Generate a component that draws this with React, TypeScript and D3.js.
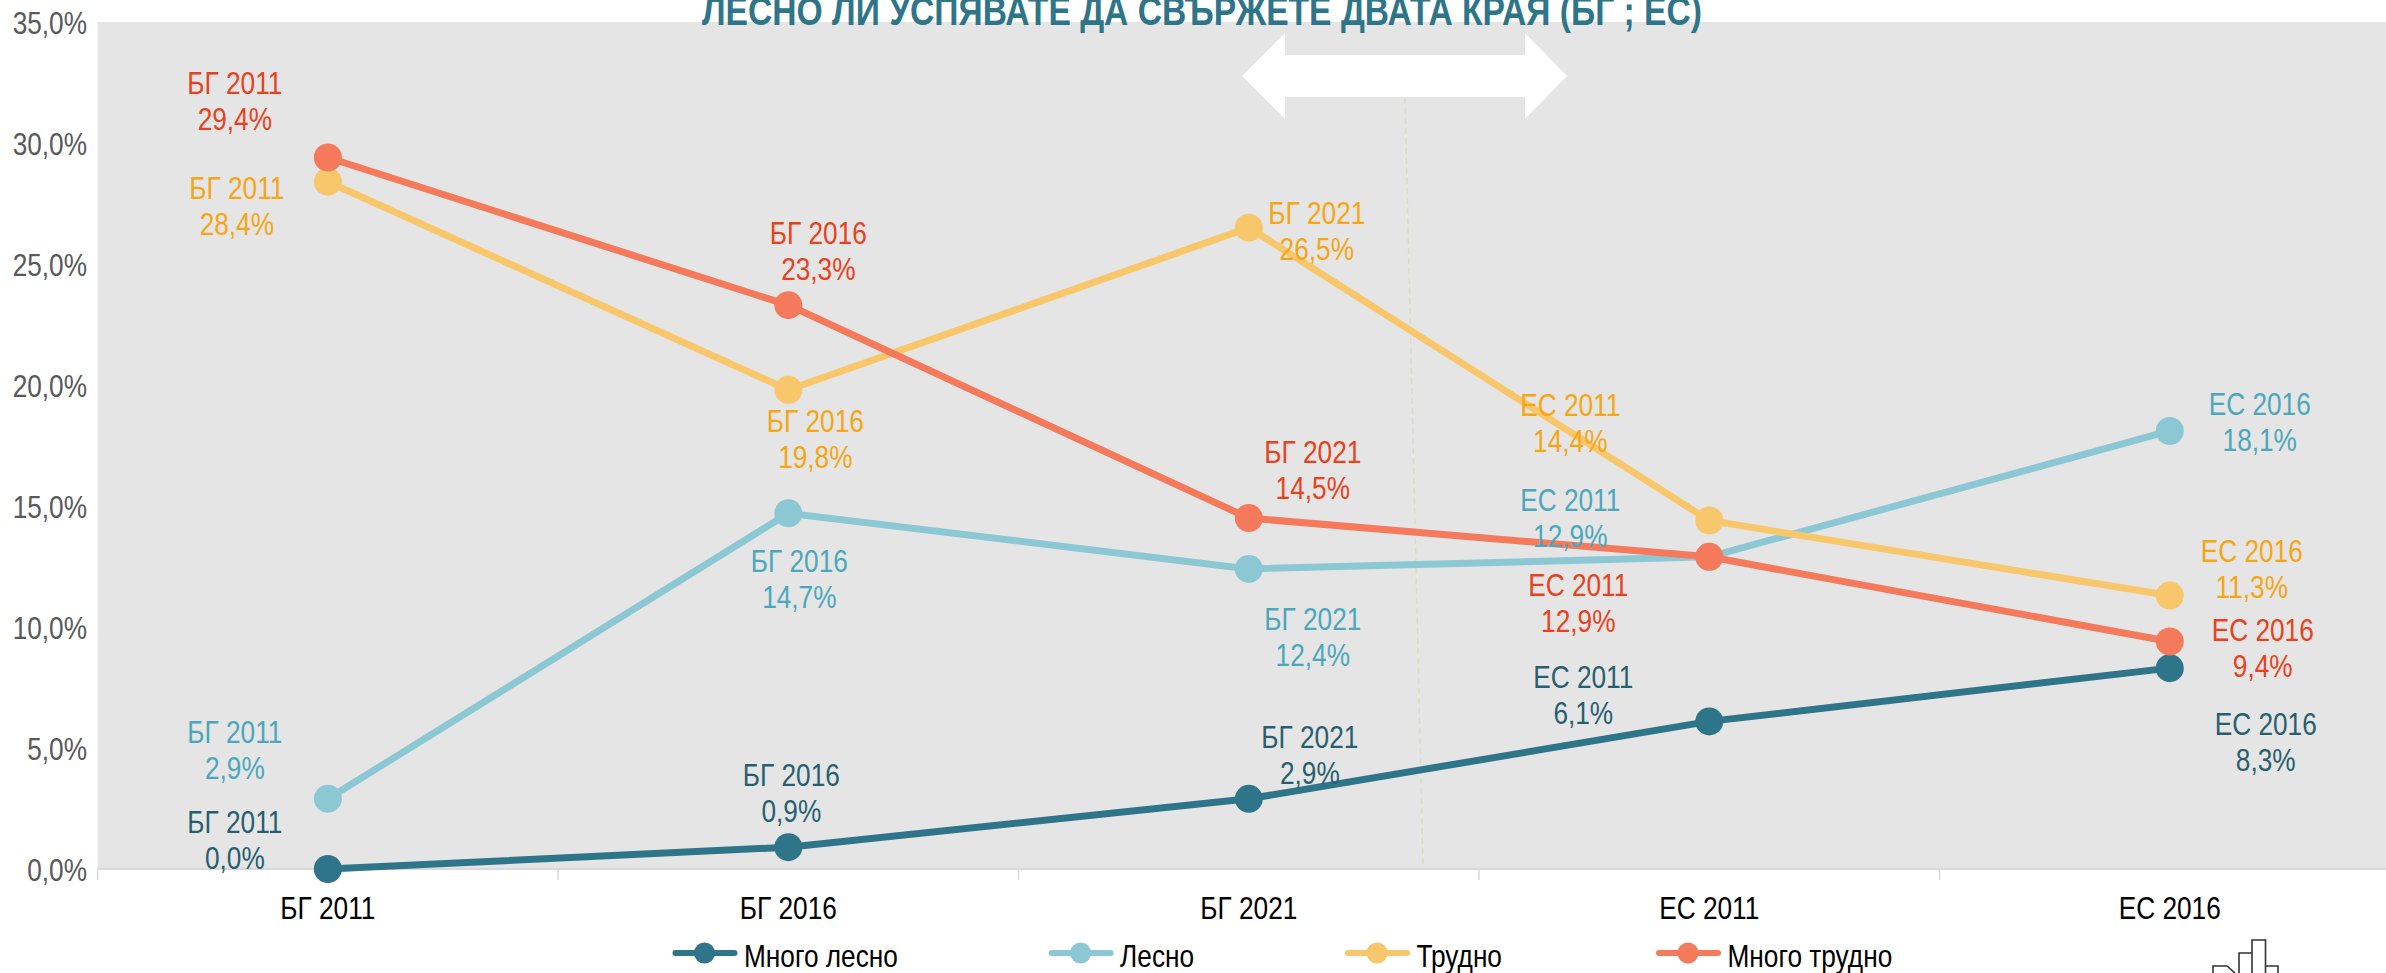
import React, { useEffect, useRef } from "react";
import * as d3 from "d3";

const categories = ["БГ 2011", "БГ 2016", "БГ 2021", "ЕС 2011", "ЕС 2016"];
const yTicks = [0, 5, 10, 15, 20, 25, 30, 35];
const seriesNames = ["Много лесно", "Лесно", "Трудно", "Много трудно"];
const veryEasy = [0.0, 0.9, 2.9, 6.1, 8.3];
const easy = [2.9, 14.7, 12.4, 12.9, 18.1];
const hard = [28.4, 19.8, 26.5, 14.4, 11.3];
const veryHard = [29.4, 23.3, 14.5, 12.9, 9.4];
const lineColors = ["#2f758a", "#8cc8d4", "#f9c76b", "#f57a5c"];
const labelColors = ["#275f70", "#4ba8bc", "#f6a514", "#e9411b"];
const labelDx = [
  [-93, 3, 61, -126, 96],
  [-93, 11, 64, -139, 90],
  [-91, 27, 68, -139, 82],
  [-93, 30, 64, -131, 93],
];
const labelDy = [
  [-30, -55, -44, -27, 73],
  [-49, 65, 68, -39, -9],
  [24, 49, 3, -98, -27],
  [-57, -55, -49, 46, 6],
];
const legendX = [672.5, 1048.6, 1345, 1656];
const title = "ЛЕСНО ЛИ УСПЯВАТЕ ДА СВЪРЖЕТЕ ДВАТА КРАЯ (БГ ; ЕС)";
const FONT = "'Liberation Sans', Arial, sans-serif";
const NARROW = 0.82;

export default function App() {
  const ref = useRef<SVGSVGElement | null>(null);
  useEffect(() => {
    const svg = d3.select(ref.current);
    svg.selectAll("*").remove();
    const all = [veryEasy, easy, hard, veryHard];
    const left = 97.6, right = 2400, top = 22, bottom = 869;
    const band = d3.scaleBand<string>().domain(categories).range([left, right]);
    const x = (c: string) => (band(c) as number) + band.bandwidth() / 2;
    const y = d3.scaleLinear().domain([0, 35]).range([bottom, top]);
    const fmt = (v: number) => v.toFixed(1).replace(".", ",") + "%";

    const label = (tx: number, ty: number, s: string, fill: string, anchor = "middle", size = 32, weight = "normal") =>
      svg.append("text")
        .attr("transform", `translate(${tx},${ty}) scale(${NARROW},1)`)
        .attr("text-anchor", anchor).attr("font-family", FONT).attr("font-size", size)
        .attr("font-weight", weight).attr("fill", fill).text(s);

    svg.append("rect").attr("x", left).attr("y", top).attr("width", right - left).attr("height", bottom - top).attr("fill", "#e5e5e5");

    svg.append("line").attr("x1", left).attr("x2", right).attr("y1", bottom).attr("y2", bottom).attr("stroke", "#d9d9d9").attr("stroke-width", 2);
    d3.range(0, 5).forEach((i) => {
      const tx = left + i * band.bandwidth();
      svg.append("line").attr("x1", tx).attr("x2", tx).attr("y1", bottom).attr("y2", bottom + 11).attr("stroke", "#d9d9d9").attr("stroke-width", 1.5);
    });

    yTicks.forEach((d) => label(87, y(d) + 12, d.toFixed(1).replace(".", ",") + "%", "#595959", "end"));
    categories.forEach((d) => label(x(d), 919, d, "#000"));

    // dashed divider
    svg.append("line").attr("x1", 1405).attr("y1", 98).attr("x2", 1423).attr("y2", 866)
      .attr("stroke", "#dcdcc4").attr("stroke-width", 1.5).attr("stroke-dasharray", "6 4");

    // arrow
    svg.append("path").attr("d", "M1242,76 L1285,33 V55 H1525 V33 L1567,76 L1525,119 V97 H1285 V119 Z").attr("fill", "#fff");

    // lines & markers
    const line = d3.line<number>().x((_, i) => x(categories[i])).y((d) => y(d));
    all.forEach((vals, s) => {
      svg.append("path").attr("d", line(vals)).attr("fill", "none").attr("stroke", lineColors[s]).attr("stroke-width", 7);
      vals.forEach((v, i) => {
        svg.append("circle").attr("cx", x(categories[i])).attr("cy", y(v)).attr("r", 14).attr("fill", lineColors[s]);
      });
    });

    // data labels
    all.forEach((vals, s) => {
      vals.forEach((v, i) => {
        const cx = x(categories[i]) + labelDx[s][i];
        const cy = y(v) + labelDy[s][i];
        label(cx, cy - 6.5, categories[i], labelColors[s]);
        label(cx, cy + 29.5, fmt(v), labelColors[s]);
      });
    });

    // title
    label(1202, 24.5, title, "#2f758a", "middle", 41, "bold");

    // legend
    seriesNames.forEach((n, s) => {
      const lx = legendX[s];
      svg.append("line").attr("x1", lx + 3).attr("x2", lx + 62).attr("y1", 953).attr("y2", 953).attr("stroke", lineColors[s]).attr("stroke-width", 6).attr("stroke-linecap", "round");
      svg.append("circle").attr("cx", lx + 32).attr("cy", 953).attr("r", 10.5).attr("fill", lineColors[s]);
      label(lx + 71.5, 967, n, "#000", "start", 32);
    });

    // logo
    svg.append("path").attr("d", "M2213,973 V966 H2227 L2235,973 M2239,973 V953 H2252 M2252,973 V940 H2265.5 V973 M2265.5,966 H2278 V973")
      .attr("fill", "none").attr("stroke", "#333").attr("stroke-width", 1.6);
  }, []);
  return <svg ref={ref} width={2386} height={973} style={{ position: "absolute", left: 0, top: 0, display: "block" }} />;
}
